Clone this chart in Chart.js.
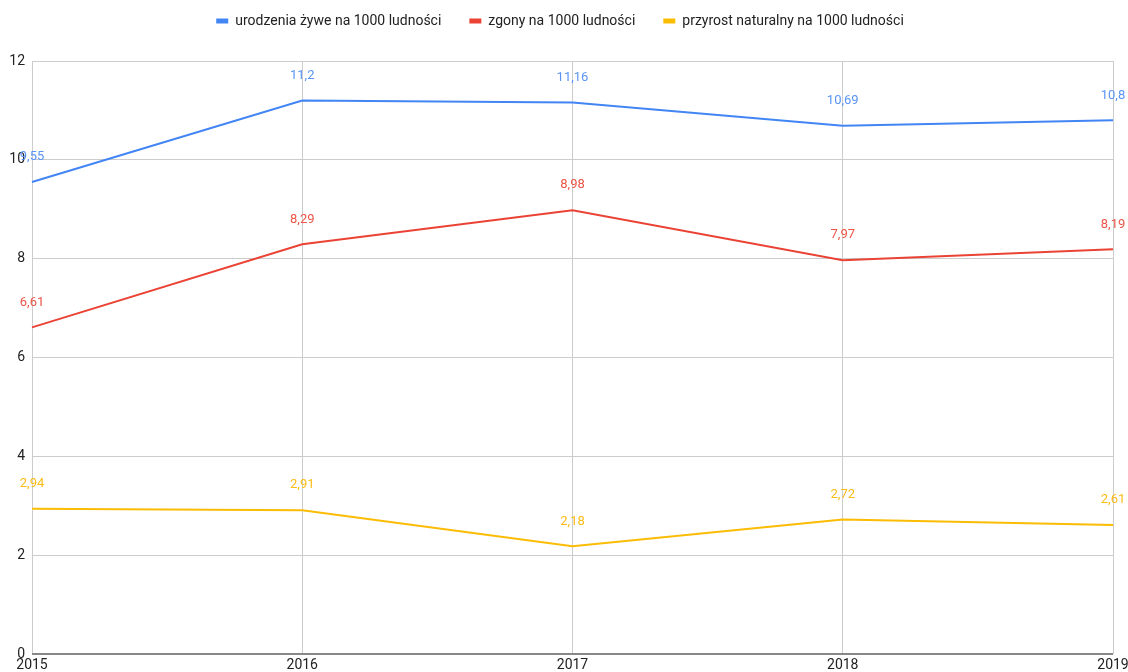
<!DOCTYPE html>
<html>
<head>
<meta charset="utf-8">
<script src="https://cdn.jsdelivr.net/npm/chart.js@4"></script>
<style>
  html, body { margin: 0; padding: 0; background: #fff; }
  #wrap { width: 1128px; height: 672px; }
</style>
</head>
<body>
<div id="wrap"><canvas id="chart" width="1128" height="672"></canvas></div>
<script>
// Years on the x axis
const years = ['2015', '2016', '2017', '2018', '2019'];

// Series values (per 1000 inhabitants)
const births = [9.55, 11.2, 11.16, 10.69, 10.8];
const deaths = [6.61, 8.29, 8.98, 7.97, 8.19];
const growth = [2.94, 2.91, 2.18, 2.72, 2.61];

// Series names
const seriesNames = [
    'urodzenia żywe na 1000 ludności',
    'zgony na 1000 ludności',
    'przyrost naturalny na 1000 ludności'
];
const seriesColors = ['#4285F4', '#EA4335', '#FBBC04'];
const labelColors = ['#5a94f5', '#ec5548', '#fbbc16'];

const FONT = 'Roboto, Arial, sans-serif';

// Extra room below the legend row, before the plot starts
const legendGap = {
    id: 'legendGap',
    beforeLayout(chart) {
        const lg = chart.legend;
        if (lg && !lg._gapPatched) {
            const fit = lg.fit;
            lg.fit = function () {
                fit.call(this);
                this.height += 23;
            };
            lg._gapPatched = true;
        }
    }
};

// Draw value labels above each point, using the positions from the chart scales
const valueLabels = {
    id: 'valueLabels',
    afterDatasetsDraw(chart) {
        const ctx = chart.ctx;
        ctx.save();
        ctx.font = '13px ' + FONT;
        ctx.textAlign = 'center';
        ctx.textBaseline = 'middle';
        chart.data.datasets.forEach((ds, i) => {
            const meta = chart.getDatasetMeta(i);
            meta.data.forEach((pt, j) => {
                const text = String(ds.data[j]).replace('.', ',');
                const w = ctx.measureText(text).width;
                let x = pt.x;
                x = Math.min(x, chart.width - w / 2 - 1);
                x = Math.max(x, w / 2 + 1);
                ctx.fillStyle = labelColors[i];
                ctx.fillText(text, x, pt.y - 25);
            });
        });
        ctx.restore();
    }
};

const makeDataset = (label, data, color) => ({
    label: label,
    data: data,
    borderColor: color,
    backgroundColor: color,
    borderWidth: 2,
    pointRadius: 0,
    pointHoverRadius: 0,
    tension: 0,
    fill: false
});

new Chart(document.getElementById('chart'), {
    type: 'line',
    data: {
        labels: years,
        datasets: [
            makeDataset(seriesNames[0], births, seriesColors[0]),
            makeDataset(seriesNames[1], deaths, seriesColors[1]),
            makeDataset(seriesNames[2], growth, seriesColors[2])
        ]
    },
    options: {
        responsive: false,
        animation: false,
        layout: { padding: { top: -14, right: 8, bottom: 0, left: 0 } },
        plugins: {
            legend: {
                position: 'top',
                labels: {
                    font: { family: FONT, size: 14 },
                    color: '#222',
                    boxWidth: 12,
                    boxHeight: 5,
                    padding: 28,
                    generateLabels(chart) {
                        return chart.data.datasets.map((ds, i) => ({
                            text: ds.label,
                            fillStyle: ds.borderColor,
                            strokeStyle: ds.borderColor,
                            lineWidth: 0,
                            fontColor: '#222',
                            datasetIndex: i
                        }));
                    }
                }
            },
            tooltip: { enabled: false }
        },
        scales: {
            x: {
                offset: false,
                grid: { color: '#cccccc', drawTicks: false },
                border: { display: false },
                ticks: {
                    font: { family: FONT, size: 14 },
                    color: '#222',
                    padding: 3,
                    maxRotation: 0
                },
                afterFit(scale) {
                    scale.height = 18;
                    scale.paddingRight = 15;
                }
            },
            y: {
                min: 0,
                max: 12,
                grid: {
                    color: (c) => (c.tick && c.tick.value === 0 ? '#888888' : '#cccccc'),
                    lineWidth: (c) => (c.tick && c.tick.value === 0 ? 2 : 1),
                    drawTicks: false
                },
                border: { display: false },
                ticks: {
                    stepSize: 2,
                    font: { family: FONT, size: 14 },
                    color: '#222',
                    padding: 7
                },
                afterFit(scale) { scale.width = 32; }
            }
        }
    },
    plugins: [legendGap, valueLabels]
});
</script>
</body>
</html>
